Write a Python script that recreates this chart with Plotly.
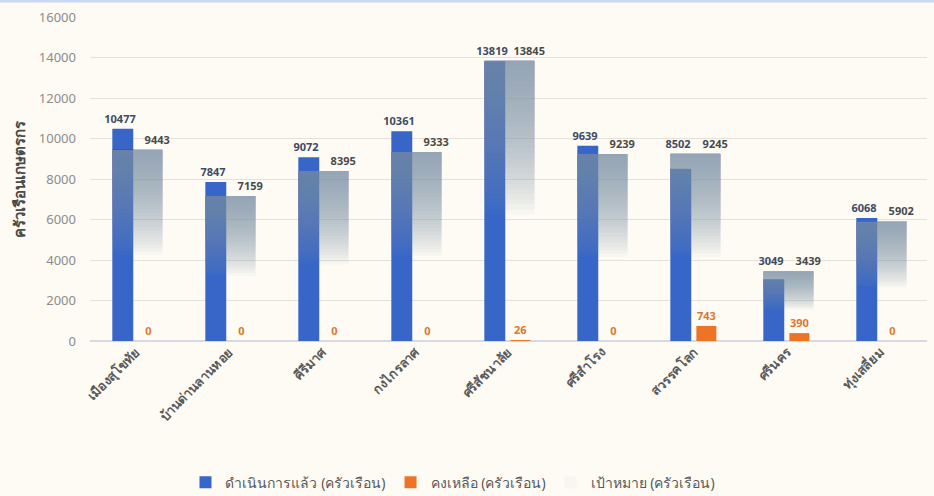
import numpy as np
import plotly.graph_objects as go

districts = ["เมืองสุโขทัย", "บ้านด่านลานหอย", "คีรีมาศ", "กงไกรลาศ", "ศรีสัชนาลัย",
             "ศรีสำโรง", "สวรรคโลก", "ศรีนคร", "ทุ่งเสลี่ยม"]
done = [10477, 7847, 9072, 10361, 13819, 9639, 8502, 3049, 6068]
remaining = [0, 0, 0, 0, 26, 0, 743, 390, 0]
target = [9443, 7159, 8395, 9333, 13845, 9239, 9245, 3439, 5902]

name_done = "ดำเนินการแล้ว (ครัวเรือน)"
name_rem = "คงเหลือ (ครัวเรือน)"
name_tgt = "เป้าหมาย (ครัวเรือน)"

FONT = "Noto Sans, Tahoma, sans-serif"
BLUE = "#3766c8"
ORANGE = "#ed7426"

fig = go.Figure()

# done bars
fig.add_trace(go.Bar(x=districts, y=done, name=name_done, marker_color=BLUE,
                     offset=-0.26, width=0.225, marker_line_width=0))
# remaining bars
fig.add_trace(go.Bar(x=districts, y=remaining, name=name_rem, marker_color=ORANGE,
                     offset=0.02, width=0.215, marker_line_width=0,
                     text=[str(v) for v in remaining], texttemplate="<b>%{text}</b>",
                     textposition="outside", constraintext="none",
                     textfont=dict(color="#d9782e", size=11, family=FONT),
                     cliponaxis=False))

# target bars: layered translucent bars to give a top-down fade
tgt = np.array(target, dtype=float)
N = 30
depth = 0.55
for k in range(1, N + 1):
    frac = depth * k / N
    fig.add_trace(go.Bar(x=districts, y=tgt * frac, base=tgt * (1 - frac),
                         name=name_tgt, legendgroup="tgt", showlegend=(k == 1),
                         marker_color="rgba(122,140,178,0.047)", marker_line_width=0,
                         offset=-0.26, width=0.54, hoverinfo="skip"))

# label carriers (invisible bars that only hold the value labels)
label_y_done = np.maximum(np.array(done), tgt)
fig.add_trace(go.Bar(x=districts, y=label_y_done, showlegend=False,
                     marker_color="rgba(0,0,0,0)", marker_line_width=0,
                     offset=-0.29, width=0.225,
                     text=[str(v) for v in done], texttemplate="<b>%{text}</b>",
                     textposition="outside", constraintext="none",
                     textfont=dict(color="#3d4b63", size=11, family=FONT),
                     cliponaxis=False, hoverinfo="skip"))
fig.add_trace(go.Bar(x=districts, y=tgt, showlegend=False,
                     marker_color="rgba(0,0,0,0)", marker_line_width=0,
                     offset=0.115, width=0.215,
                     text=[str(v) for v in target], texttemplate="<b>%{text}</b>",
                     textposition="outside", constraintext="none",
                     textfont=dict(color="#4a4a4a", size=11, family=FONT),
                     cliponaxis=False, hoverinfo="skip"))

fig.update_layout(
    barmode="overlay",
    width=934, height=496,
    margin=dict(l=90, r=7, t=17, b=155),
    paper_bgcolor="#fdfbf4",
    plot_bgcolor="#fdfbf4",
    font=dict(family=FONT, color="#595959"),
    showlegend=True,
    legend=dict(orientation="h", xref="container", yref="container",
                x=0.485, xanchor="center", y=0.027, yanchor="middle",
                font=dict(size=14, color="#595959"), traceorder="normal"),
)
fig.update_yaxes(range=[0, 16000], dtick=2000, tickformat="d", automargin=False,
                 gridcolor="#e5e1d6", gridwidth=1,
                 zeroline=True, zerolinecolor="#d6d9e0", zerolinewidth=1.5,
                 tickfont=dict(size=13, color="#8c8c8c"), ticklabelstandoff=13,
                 title=dict(text="<b>ครัวเรือนเกษตรกร</b>", font=dict(size=15, color="#4a4a4a"),
                            standoff=9))
fig.update_xaxes(tickangle=-45, tickvals=districts, automargin=False,
                 ticktext=["<b>" + d + "</b>" for d in districts],
                 tickfont=dict(size=13, color="#5a5a5a"),
                 showgrid=False, showline=False)
fig.add_shape(type="line", xref="paper", yref="paper",
              x0=-0.11, x1=1.01, y0=1.049, y1=1.049,
              line=dict(color="#c8d8f4", width=3))

fig.write_html("out.html", config={"displayModeBar": False},
               post_script="document.body.style.margin='0';document.body.style.background='#fdfbf4';")
